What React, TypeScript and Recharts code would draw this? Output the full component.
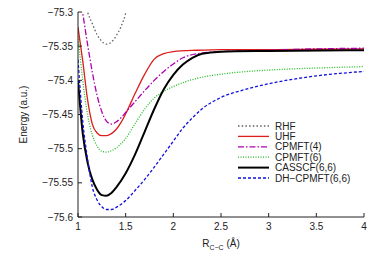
import { LineChart, Line, XAxis, YAxis, Legend } from "recharts";

// potential energy curves, R in Å, E in a.u.
const rhf: [number, number][] = [
    [1.06, -75.28], [1.10, -75.300], [1.15, -75.317], [1.20, -75.333], [1.25, -75.343],
    [1.30, -75.347], [1.35, -75.344], [1.40, -75.335], [1.45, -75.322], [1.50, -75.302], [1.53, -75.285],
];
const uhf: [number, number][] = [
    [1.0, -75.322], [1.05, -75.372], [1.10, -75.428], [1.15, -75.464], [1.20, -75.477],
    [1.25, -75.481], [1.30, -75.481], [1.35, -75.478], [1.40, -75.472], [1.45, -75.462],
    [1.50, -75.449], [1.60, -75.419], [1.70, -75.391], [1.80, -75.369], [1.90, -75.361],
    [2.0, -75.358], [2.25, -75.356], [2.5, -75.355], [3.0, -75.355], [3.5, -75.3545], [4.0, -75.354],
];
const cpmft4: [number, number][] = [
    [1.02, -75.275], [1.05, -75.302], [1.10, -75.347], [1.15, -75.388], [1.20, -75.422],
    [1.25, -75.446], [1.30, -75.460], [1.35, -75.464], [1.40, -75.461], [1.45, -75.455],
    [1.50, -75.447], [1.60, -75.431], [1.70, -75.415], [1.80, -75.400], [1.90, -75.387],
    [2.0, -75.376], [2.1, -75.367], [2.25, -75.361], [2.5, -75.358], [3.0, -75.356],
    [3.5, -75.354], [4.0, -75.353],
];
const cpmft6: [number, number][] = [
    [1.0, -75.336], [1.05, -75.400], [1.10, -75.450], [1.15, -75.480], [1.20, -75.496],
    [1.25, -75.504], [1.30, -75.505], [1.35, -75.503], [1.40, -75.499], [1.50, -75.485],
    [1.60, -75.463], [1.70, -75.442], [1.80, -75.426], [1.90, -75.416], [2.0, -75.409],
    [2.25, -75.397], [2.5, -75.391], [3.0, -75.385], [3.5, -75.382], [4.0, -75.380],
];
const casscf: [number, number][] = [
    [1.0, -75.400], [1.05, -75.478], [1.10, -75.520], [1.15, -75.545], [1.20, -75.560],
    [1.25, -75.568], [1.30, -75.569], [1.35, -75.565], [1.40, -75.557], [1.50, -75.536],
    [1.60, -75.508], [1.70, -75.475], [1.80, -75.442], [1.90, -75.413], [2.0, -75.392],
    [2.1, -75.377], [2.2, -75.367], [2.3, -75.361], [2.5, -75.358], [3.0, -75.357], [4.0, -75.356],
];
const dhCpmft: [number, number][] = [
    [1.0, -75.370], [1.05, -75.460], [1.10, -75.515], [1.15, -75.556], [1.20, -75.575],
    [1.25, -75.585], [1.30, -75.589], [1.35, -75.589], [1.40, -75.586], [1.50, -75.576],
    [1.60, -75.561], [1.70, -75.545], [1.80, -75.527], [1.90, -75.508], [2.0, -75.489],
    [2.1, -75.470], [2.2, -75.455], [2.3, -75.442], [2.5, -75.425], [2.75, -75.4135],
    [3.0, -75.405], [3.25, -75.3985], [3.5, -75.3935], [3.75, -75.3898], [4.0, -75.387],
];

const xTicks = [1, 1.5, 2, 2.5, 3, 3.5, 4];
const yTicks = [-75.6, -75.55, -75.5, -75.45, -75.4, -75.35, -75.3];
const yTickLabels = ["−75.6", "−75.55", "−75.5", "−75.45", "−75.4", "−75.35", "−75.3"];

const series = [
    { name: "RHF", points: rhf, color: "#606060", width: 1.3, dash: "1.5 2.2" },
    { name: "UHF", points: uhf, color: "#dd1c1c", width: 1.3, dash: undefined },
    { name: "CPMFT(4)", points: cpmft4, color: "#b000b0", width: 1.3, dash: "6 2 1.5 2" },
    { name: "CPMFT(6)", points: cpmft6, color: "#22bb22", width: 1.3, dash: "1 1.5" },
    { name: "CASSCF(6,6)", points: casscf, color: "#000000", width: 2, dash: undefined },
    { name: "DH−CPMFT(6,6)", points: dhCpmft, color: "#1010dd", width: 1.3, dash: "3 2" },
];

const font = "'Liberation Sans', Arial, sans-serif";
const ink = "#222";

const XTitle = ({ viewBox }: any) => (
    <text x={viewBox.x + viewBox.width / 2} y={viewBox.y + 30} textAnchor="middle"
        fontFamily={font} fontSize={10} fill={ink}>
        <tspan>R</tspan>
        <tspan fontSize={7} dy={3}>C−C</tspan>
        <tspan dy={-3}> (Å)</tspan>
    </text>
);

const YTitle = ({ viewBox }: any) => {
    const cy = viewBox.y + viewBox.height / 2;
    return (
        <text x={23} y={cy} textAnchor="middle" dominantBaseline="central"
            transform={`rotate(-90 23 ${cy})`} fontFamily={font} fontSize={10} fill={ink}>
            Energy (a.u.)
        </text>
    );
};

const KeyBox = () => (
    <svg width={130} height={70}>
        {series.map((s, i) => {
            const y = 6 + i * 10.4;
            return (
                <g key={s.name}>
                    <line x1={0} x2={31} y1={y} y2={y} stroke={s.color}
                        strokeWidth={s.width} strokeDasharray={s.dash} />
                    <text x={37} y={y} dominantBaseline="central" fontFamily={font}
                        fontSize={10} fill={ink}>{s.name}</text>
                </g>
            );
        })}
    </svg>
);

const noLabel = () => "";

export default function App() {
    return (
        <div style={{ position: "absolute", left: 0, top: 0 }}>
            <LineChart width={374} height={261} margin={{ top: 12, right: 10, left: 0, bottom: 0 }}>
                <XAxis dataKey="x" type="number" domain={[1, 4]} ticks={xTicks} allowDataOverflow
                    height={44} tickSize={-4} tickMargin={10}
                    stroke={ink} tick={{ fill: ink, fontSize: 10, fontFamily: font }}
                    label={<XTitle />} />
                <XAxis xAxisId="top" orientation="top" type="number" domain={[1, 4]} ticks={xTicks}
                    allowDataOverflow height={0} tickSize={-4} tickFormatter={noLabel} stroke={ink} />
                <YAxis type="number" domain={[-75.6, -75.3]} ticks={yTicks} allowDataOverflow
                    width={78} tickSize={-4} tickMargin={9} stroke={ink}
                    tickFormatter={(v: number) => yTickLabels[yTicks.indexOf(v)] ?? String(v)}
                    tick={{ fill: ink, fontSize: 10, fontFamily: font }}
                    label={<YTitle />} />
                <YAxis yAxisId="right" orientation="right" type="number" domain={[-75.6, -75.3]}
                    ticks={yTicks} allowDataOverflow width={0} tickSize={-4} tickFormatter={noLabel}
                    stroke={ink} />
                <Legend layout="vertical" align="center" verticalAlign="middle"
                    wrapperStyle={{ position: "absolute", left: 238, top: 119.5, width: 130 }}
                    content={<KeyBox />} />
                {series.map((s) => (
                    <Line key={s.name} name={s.name} type="monotone" dataKey="y"
                        data={s.points.map(([x, y]) => ({ x, y }))}
                        stroke={s.color} strokeWidth={s.width} strokeDasharray={s.dash}
                        dot={false} activeDot={false} isAnimationActive={false} />
                ))}
            </LineChart>
        </div>
    );
}
